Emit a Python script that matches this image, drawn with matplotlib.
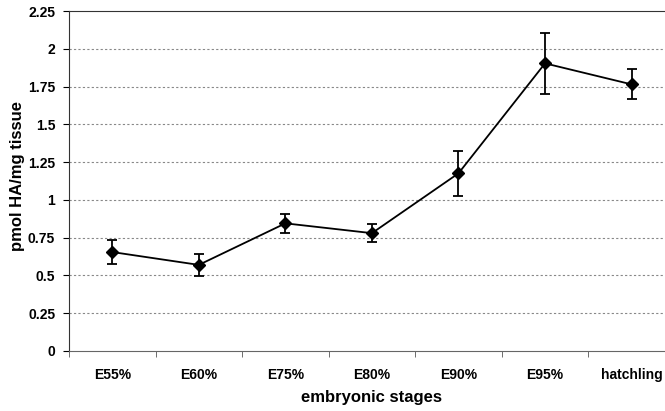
import numpy as np
from matplotlib import pyplot as plt

stages = ['E55%', 'E60%', 'E75%', 'E80%', 'E90%', 'E95%', 'hatchling']
ha_mean = [0.655, 0.57, 0.845, 0.78, 1.176, 1.904, 1.765]
ha_err = [0.08, 0.075, 0.065, 0.06, 0.148, 0.203, 0.10]
y_ticks = [0, 0.25, 0.5, 0.75, 1, 1.25, 1.5, 1.75, 2, 2.25]
y_labels = ['0', '0.25', '0.5', '0.75', '1', '1.25', '1.5', '1.75', '2', '2.25']


def main():
    plt.rcParams['font.family'] = ['Liberation Sans', 'DejaVu Sans']
    fig = plt.figure(figsize=(6.65, 4.11), dpi=100)
    ax = fig.add_axes([0.1038, 0.146, 0.911, 0.827])

    x = np.arange(len(stages))
    ax.errorbar(x, ha_mean, yerr=ha_err, color='black', lw=1.3,
                marker='D', markersize=6.5, capsize=3.8, capthick=1.3,
                elinewidth=1.3, zorder=3)

    ax.set_xlim(-0.5, len(stages) - 0.5)
    ax.set_ylim(0, 2.25)
    ax.set_yticks(y_ticks)
    ax.set_yticklabels(y_labels, fontsize=10, fontweight='bold')
    ax.set_xticks(x)
    ax.set_xticklabels(stages, fontsize=10, fontweight='bold')
    ax.tick_params(axis='x', length=0, pad=12)
    ax.set_xticks(np.arange(len(stages) + 1) - 0.5, minor=True)
    ax.tick_params(axis='x', which='minor', length=4, direction='out', color='#555555')
    ax.tick_params(axis='y', length=4, direction='out', pad=6)

    for yv in y_ticks[1:-1]:
        ax.axhline(yv, color='#888888', lw=0.8, ls=(0, (2, 2)), zorder=1)

    ax.spines['right'].set_visible(False)
    ax.spines['top'].set_color('#333333')
    ax.spines['left'].set_color('#333333')
    ax.spines['bottom'].set_color('#666666')

    ax.set_xlabel('embryonic stages', fontsize=12, fontweight='bold', labelpad=6)
    ax.set_ylabel('pmol HA/mg tissue', fontsize=12, fontweight='bold')
    ax.yaxis.set_label_coords(-0.072, 0.515)

    plt.savefig('out.png', dpi=100)


if __name__ == '__main__':
    main()
